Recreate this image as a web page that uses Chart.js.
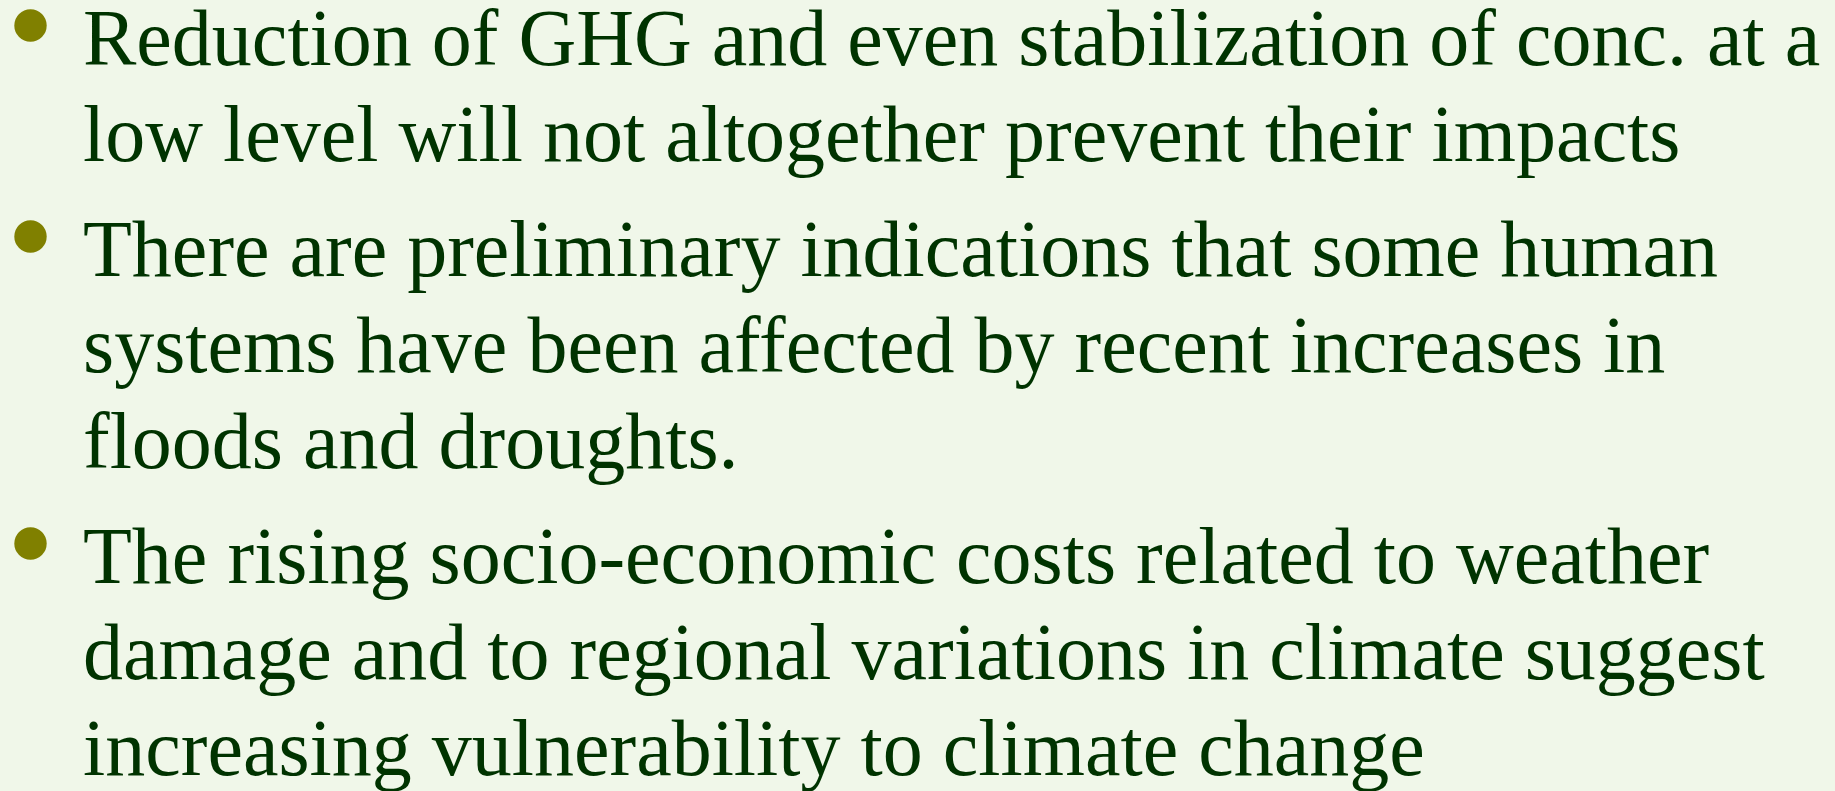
<!DOCTYPE html>
<html>
<head>
<meta charset="utf-8">
<script src="https://cdn.jsdelivr.net/npm/chart.js@4/dist/chart.umd.min.js"></script>
<style>
  html, body { margin: 0; padding: 0; background: #f0f7e9; overflow: hidden; }
  #slide { display: block; }
</style>
</head>
<body>
<canvas id="slide" width="1835" height="791"></canvas>
<script>
// bullet points, one array of wrapped lines per bullet
const bullet1 = [
  "Reduction of GHG and even stabilization of conc. at a",
  "low level will not altogether prevent their impacts"
];
const bullet2 = [
  "There are preliminary indications that some human",
  "systems have been affected by recent increases in",
  "floods and droughts."
];
const bullet3 = [
  "The rising socio-economic costs related to weather",
  "damage and to regional variations in climate suggest",
  "increasing vulnerability to climate change"
];
const bullets = [bullet1, bullet2, bullet3];

// layout
const textLeft = 83;
const firstBaseline = 65;
const lineHeight = 96;
const bulletGap = 19;
const fontSize = 80;
const textColor = '#003300';
const bulletColor = '#808000';

// draws the bullet list on the chart canvas
const bulletListPlugin = {
  id: 'bulletList',
  afterDraw(chart) {
    const ctx = chart.ctx;
    ctx.save();
    ctx.font = fontSize + 'px "Liberation Serif", "Times New Roman", serif';
    ctx.textBaseline = 'alphabetic';
    ctx.textAlign = 'left';
    let y = firstBaseline;
    bullets.forEach((lines, i) => {
      if (i > 0) y += bulletGap;
      // olive round bullet
      ctx.fillStyle = bulletColor;
      ctx.beginPath();
      ctx.arc(30.5, y - 39.5, 16.2, 0, Math.PI * 2);
      ctx.fill();
      ctx.fillStyle = textColor;
      lines.forEach((line, j) => {
        if (j > 0) y += lineHeight;
        ctx.fillText(line, textLeft, y);
      });
      y += lineHeight;
    });
    ctx.restore();
  }
};

new Chart(document.getElementById('slide'), {
  type: 'scatter',
  data: { datasets: [] },
  options: {
    responsive: false,
    animation: false,
    layout: { padding: 0 },
    scales: {
      x: { display: false },
      y: { display: false }
    },
    plugins: {
      legend: { display: false },
      tooltip: { enabled: false }
    }
  },
  plugins: [bulletListPlugin]
});
</script>
</body>
</html>
